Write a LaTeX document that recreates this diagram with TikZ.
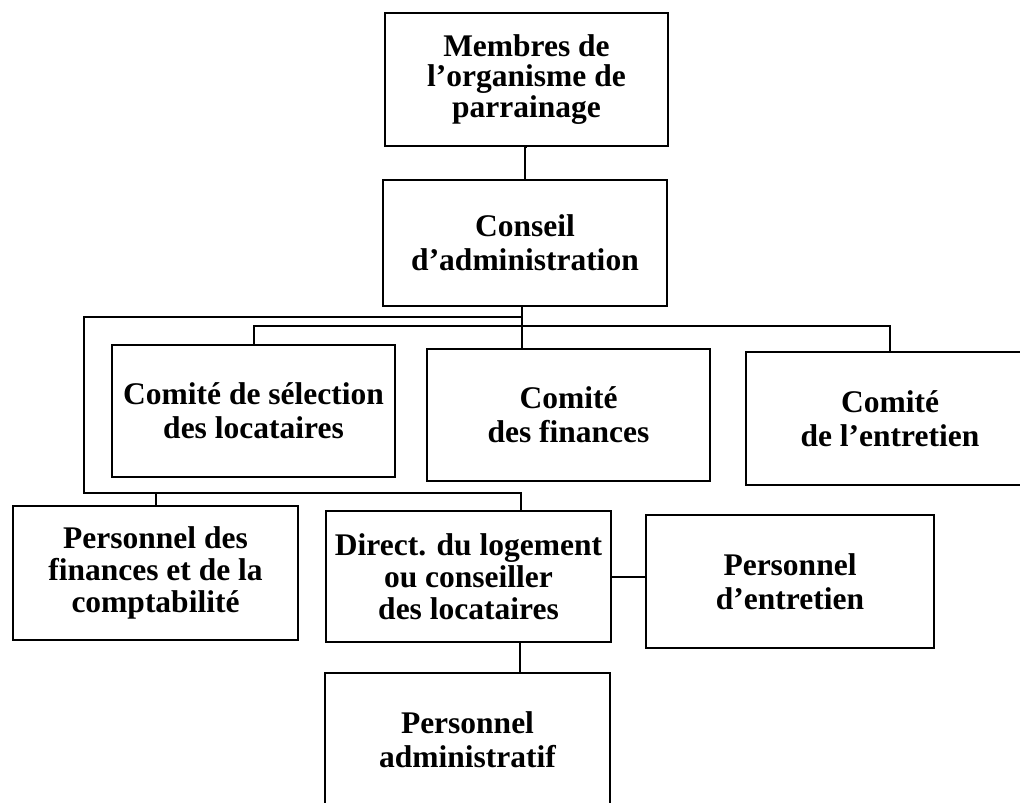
\documentclass[tikz,border=0pt]{standalone}
\usepackage{fontspec}
\setmainfont{Liberation Serif}
\begin{document}
\begin{tikzpicture}[x=1pt,y=-1pt,
  box/.style={draw, line width=2.2pt, rectangle, inner sep=0pt, align=center,
    font=\bfseries\fontsize{31.5}{34}\selectfont},
  conn/.style={line width=2pt}]
\useasboundingbox (0,0) rectangle (1020,803);
\clip (0,0) rectangle (1020,803);
\node[box, minimum width=283pt, minimum height=133pt, font=\bfseries\fontsize{31.5}{30.5}\selectfont] (m) at (526.5,79.5) {Membres de\\l’organisme de\\parrainage};
\node[box, minimum width=284pt, minimum height=126pt] (cs) at (525,243) {Conseil\\d’administration};
\node[box, minimum width=283pt, minimum height=132pt] (c1) at (253.5,411) {Comité de sélection\\des locataires};
\node[box, minimum width=283pt, minimum height=132pt] (c2) at (568.5,415) {Comité\\des finances};
\node[box, minimum width=288pt, minimum height=133pt] (c3) at (890,418.5) {Comité\\de l’entretien};
\node[box, minimum width=285pt, minimum height=134pt, font=\bfseries\fontsize{31.5}{32}\selectfont] (pf) at (155.5,573) {Personnel des\\finances et de la\\comptabilité};
\node[box, minimum width=285pt, minimum height=131pt, font=\bfseries\fontsize{31.5}{32}\selectfont] (dl) at (468.5,576.5) {Direct. du logement\\ou conseiller\\des locataires};
\node[box, minimum width=288pt, minimum height=133pt] (pe) at (790,581.5) {Personnel\\d’entretien};
\node[box, minimum width=285pt, minimum height=134pt] (pa) at (467.5,740) {Personnel\\administratif};
\coordinate (j1) at (522,326);
\coordinate (j2) at (522,317);
\coordinate (lc) at (84,493);
\draw[conn] (m.south) -- (cs.south |- m.south) -- (cs.north);
\draw[conn] (j2 |- cs.south) -- (j2 |- c2.north);
\draw[conn] (c1.north) |- (j1) -| (c3.north);
\draw[conn] (j2) -| (lc) -| ([xshift=52.5pt]dl.north);
\draw[conn] (pf.north) -- (pf.north |- lc);
\draw[conn] (dl.east) -- (dl.east -| pe.west);
\draw[conn] ([xshift=51pt]dl.south) -- ([xshift=51pt]dl.south |- pa.north);
\end{tikzpicture}
\end{document}
